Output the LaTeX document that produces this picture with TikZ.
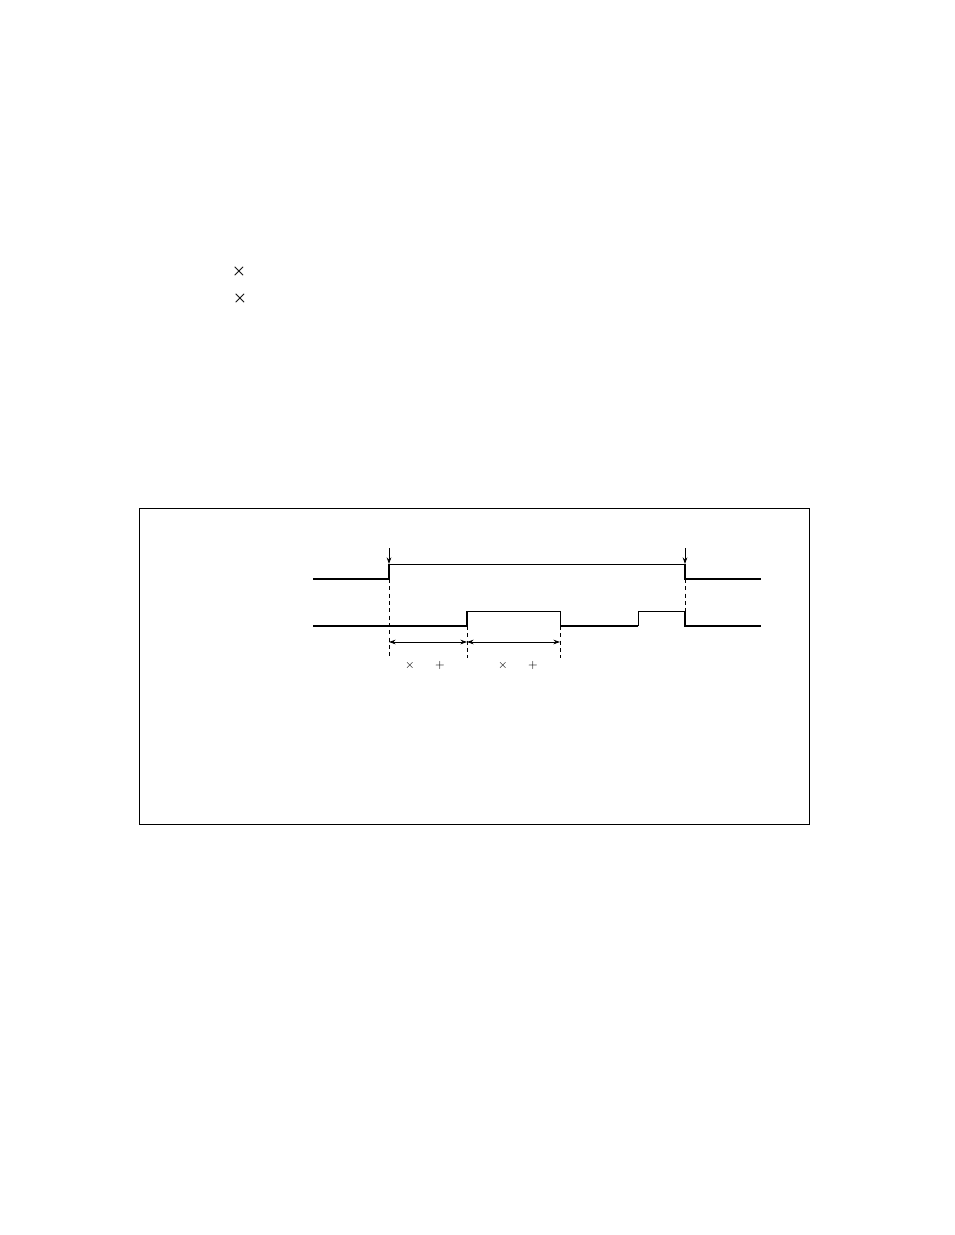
\documentclass[tikz,border=0pt]{standalone}
\usetikzlibrary{arrows.meta}
\begin{document}
\begin{tikzpicture}[x=0.75pt,y=-0.75pt,
  thickline/.style={line width=1.3pt},
  thinline/.style={line width=0.6pt},
  guide/.style={dashed,line width=0.6pt,dash pattern=on 3pt off 2.5pt},
  dim/.style={line width=0.6pt,{Stealth[length=5pt,width=3.5pt]}-{Stealth[length=5pt,width=3.5pt]}},
  marker/.style={line width=0.6pt,-{Stealth[length=5pt,width=3.5pt]}},
  sym/.style={inner sep=0pt,font=\small},
  bigsym/.style={inner sep=0pt,font={\large\boldmath}}]
\useasboundingbox[fill=white] (0,0) rectangle (954,1235);
% frame
\draw[line width=0.7pt] (139,508) rectangle (809,824);
% coordinates top signal
\coordinate (t0) at (313,579);
\coordinate (t1) at (389,579);
\coordinate (t2) at (389,564);
\coordinate (t3) at (685,564);
\coordinate (t4) at (685,579);
\coordinate (t5) at (761,579);
% top signal
\draw[thickline] (t0) -- (t1) -- (t2);
\draw[thinline] (t2) -- (t3);
\draw[thickline] (t3) -- (t4) -- (t5);
% event arrows
\coordinate (a1) at (389,548);
\coordinate (a2) at (685,548);
\draw[marker] (a1) -- (t2);
\draw[marker] (a2) -- (t3);
% bottom signal
\coordinate (b0) at (313,626);
\coordinate (b1) at (467,626);
\coordinate (b2) at (467,611);
\coordinate (b3) at (560,611);
\coordinate (b4) at (560,626);
\coordinate (b5) at (638,626);
\coordinate (b6) at (638,611);
\coordinate (b7) at (685,611);
\coordinate (b8) at (685,626);
\coordinate (b9) at (761,626);
\draw[thickline] (b0) -- (b1) -- (b2);
\draw[thinline] (b2) -- (b3) -- (b4);
\draw[thickline] (b4) -- (b5);
\draw[thinline] (b5) -- (b6) -- (b7);
\draw[thickline] (b7) -- (b8) -- (b9);
% guides
\coordinate (g1) at (389,658);
\coordinate (g2) at (467,658);
\coordinate (g3) at (560,658);
\draw[guide] (t1) -- (g1);
\draw[guide] (b1) -- (g2);
\draw[guide] (b4) -- (g3);
\draw[guide] (t4) -- (b8);
% dimension arrows
\coordinate (d1) at (389,642);
\coordinate (d2) at (467,642);
\coordinate (d3) at (560,642);
\draw[dim] (d1) -- (d2);
\draw[dim] (d2) -- (d3);
% symbols
\node[sym] (x1) at (410,665) {$\times$};
\node[sym] (p1) at (440,665) {$+$};
\node[sym] (x2) at (503,665) {$\times$};
\node[sym] (p2) at (533,665) {$+$};
\node[bigsym] (x3) at (239,271) {$\times$};
\node[bigsym] (x4) at (240,298) {$\times$};
\end{tikzpicture}
\end{document}
